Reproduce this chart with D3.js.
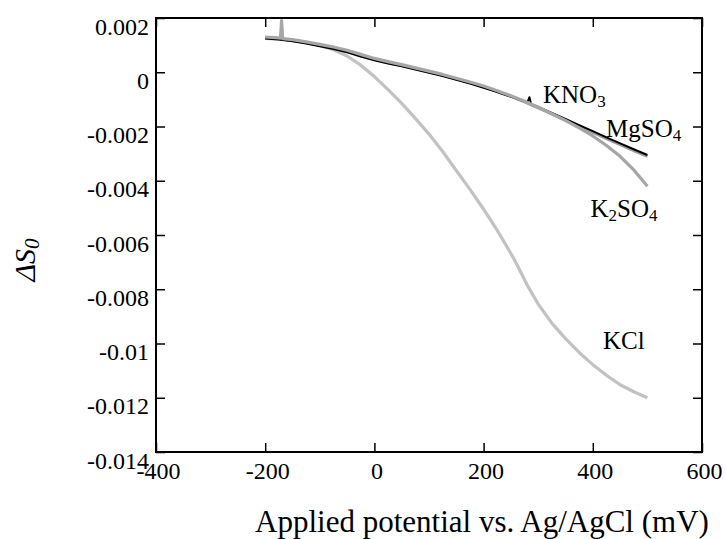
<!DOCTYPE html>
<html>
<head>
<meta charset="utf-8">
<script src="https://cdn.jsdelivr.net/npm/d3@7"></script>
<style>
  body { margin: 0; background: #fff; }
  svg { display: block; }
  text { font-family: "Liberation Serif", "Times New Roman", serif; fill: #000; }
</style>
</head>
<body>
<svg id="chart" width="726" height="539"></svg>
<script>
// ---------- data ----------
const xTicks = [-400, -200, 0, 200, 400, 600];
const xTickLabels = ["-400", "-200", "0", "200", "400", "600"];
const yTicks = [0.002, 0, -0.002, -0.004, -0.006, -0.008, -0.01, -0.012, -0.014];
const yTickLabels = ["0.002", "0", "-0.002", "-0.004", "-0.006", "-0.008", "-0.01", "-0.012", "-0.014"];

const potKCl = [-200,-175,-150,-125,-100,-75,-50,-25,0,25,50,75,100,125,150,175,200,225,250,260,270,280,300,325,350,375,400,425,450,475,500];
const valKCl = [0.00125,0.00122,0.00117,0.00110,0.00099,0.00083,0.00060,0.00026,-0.00016,-0.00064,-0.00115,-0.00170,-0.00228,-0.00292,-0.00362,-0.00432,-0.00505,-0.00583,-0.00668,-0.00705,-0.00745,-0.00785,-0.00855,-0.00925,-0.00982,-0.01033,-0.01078,-0.01117,-0.01152,-0.01178,-0.01200];

const potKNO3 = [-200,-175,-150,-125,-100,-75,-50,-25,0,25,50,75,100,125,150,175,200,225,250,275,280,284,287,300,325,350,375,400,425,450,475,500];
const valKNO3 = [0.00124,0.00121,0.00114,0.00106,0.00096,0.00086,0.00074,0.00058,0.00044,0.00032,0.00022,0.00010,-0.00002,-0.00014,-0.00028,-0.00042,-0.00057,-0.00073,-0.00090,-0.00108,-0.00112,-0.00092,-0.00118,-0.00128,-0.00150,-0.00172,-0.00195,-0.00217,-0.00240,-0.00262,-0.00284,-0.00305];

const potMgSO4 = [-200,-175,-150,-125,-100,-75,-50,-25,0,25,50,75,100,125,150,175,200,225,250,275,300,325,350,375,400,425,450,475,500];
const valMgSO4 = [0.00127,0.00124,0.00117,0.00109,0.00099,0.00089,0.00077,0.00061,0.00047,0.00035,0.00025,0.00013,0.00001,-0.00011,-0.00025,-0.00039,-0.00054,-0.00071,-0.00089,-0.00109,-0.00131,-0.00153,-0.00176,-0.00199,-0.00222,-0.00245,-0.00267,-0.00289,-0.00310];

const potK2SO4 = [-200,-175,-172,-170,-168,-150,-125,-100,-75,-50,-25,0,25,50,75,100,125,150,175,200,225,250,275,300,325,350,375,400,425,450,475,500];
const valK2SO4 = [0.00130,0.00127,0.00126,0.00190,0.00124,0.00120,0.00112,0.00103,0.00093,0.00081,0.00066,0.00051,0.00039,0.00028,0.00016,0.00004,-0.00008,-0.00022,-0.00036,-0.00051,-0.00068,-0.00087,-0.00107,-0.00129,-0.00153,-0.00178,-0.00205,-0.00235,-0.00270,-0.00310,-0.00360,-0.00420];

const seriesNames = ["KCl", "MgSO4", "KNO3", "K2SO4"];

// ---------- layout ----------
const svg = d3.select("#chart");
const mLeft = 156, mRight = 702, mTop = 18, mBottom = 452;
const serif = '"Liberation Serif", "Times New Roman", serif';

const x = d3.scaleLinear().domain([-400, 600]).range([mLeft, mRight]);
const y = d3.scaleLinear().domain([-0.014, 0.002]).range([mBottom, mTop]);

const series = [
  { name: "KCl", xs: potKCl, ys: valKCl, color: "#c2c2c2", width: 3.2 },
  { name: "MgSO4", xs: potMgSO4, ys: valMgSO4, color: "#9c9c9c", width: 3 },
  { name: "KNO3", xs: potKNO3, ys: valKNO3, color: "#000000", width: 2 },
  { name: "K2SO4", xs: potK2SO4, ys: valK2SO4, color: "#a6a6a6", width: 3.2 }
];

const line = d3.line().x(d => x(d[0])).y(d => y(d[1]));

series.forEach(s => {
  const pts = s.xs.map((v, i) => [v, s.ys[i]]);
  svg.append("path")
    .datum(pts)
    .attr("d", line)
    .attr("fill", "none")
    .attr("stroke", s.color)
    .attr("stroke-width", s.width)
    .attr("stroke-linejoin", "round");
});

// ---------- frame (filled bars) ----------
const fw = 2;
const frame = svg.append("g").attr("fill", "#000");
frame.append("rect").attr("x", mLeft - fw / 2).attr("y", mTop - fw / 2).attr("width", fw).attr("height", mBottom - mTop + fw);
frame.append("rect").attr("x", mRight - fw / 2).attr("y", mTop - fw / 2).attr("width", fw).attr("height", mBottom - mTop + fw);
frame.append("rect").attr("x", mLeft - fw / 2).attr("y", mTop - fw / 2).attr("width", mRight - mLeft + fw).attr("height", fw);
frame.append("rect").attr("x", mLeft - fw / 2).attr("y", mBottom - fw / 2).attr("width", mRight - mLeft + fw).attr("height", fw);

// ---------- axes (ticks inward, on all sides) ----------
const tickLen = 9;
const gB = svg.append("g").attr("transform", `translate(0,${mBottom})`)
  .call(d3.axisBottom(x).tickValues(xTicks).tickSize(-tickLen).tickSizeOuter(0)
    .tickFormat((d, i) => xTickLabels[i]));
gB.selectAll("text").attr("y", 27).attr("dy", 0).attr("dx", 2);

const gT = svg.append("g").attr("transform", `translate(0,${mTop})`)
  .call(d3.axisTop(x).tickValues(xTicks).tickSize(-tickLen).tickSizeOuter(0).tickFormat(""));

const gL = svg.append("g").attr("transform", `translate(${mLeft},0)`)
  .call(d3.axisLeft(y).tickValues(yTicks).tickSize(-tickLen).tickSizeOuter(0)
    .tickFormat((d, i) => yTickLabels[i]));
gL.selectAll("text").attr("x", -7).attr("dy", 0).attr("y", 16);

const gR = svg.append("g").attr("transform", `translate(${mRight},0)`)
  .call(d3.axisRight(y).tickValues(yTicks).tickSize(-tickLen).tickSizeOuter(0).tickFormat(""));

[gB, gT, gL, gR].forEach(g => {
  g.selectAll("path.domain").remove();
  g.selectAll(".tick line").attr("stroke", "#000").attr("stroke-width", 1.5);
  g.attr("font-family", serif).attr("font-size", 24);
  g.selectAll("text").style("font-family", serif).style("font-size", "24px").attr("fill", "#000");
});

// ---------- axis titles ----------
svg.append("text")
  .attr("x", 482).attr("y", 532)
  .attr("text-anchor", "middle")
  .style("font-size", "31px")
  .text("Applied potential vs. Ag/AgCl (mV)");

const yt = svg.append("text")
  .attr("transform", "translate(35,260) rotate(-90)")
  .attr("text-anchor", "middle")
  .style("font-size", "30px")
  .style("font-style", "italic");
yt.append("tspan").text("ΔS");
yt.append("tspan").attr("dy", "0.2em").style("font-size", "21px").text("0");

// ---------- series labels ----------
function label(xp, yp, parts) {
  const t = svg.append("text").attr("x", xp).attr("y", yp).style("font-size", "25px");
  parts.forEach(p => {
    if (p.sub) {
      t.append("tspan").attr("dy", 4).style("font-size", "17px").text(p.t);
    } else {
      t.append("tspan").attr("dy", p.after ? -4 : 0).text(p.t);
    }
  });
}
label(543, 103, [{ t: "KNO" }, { t: "3", sub: true }]);
label(606, 136.5, [{ t: "MgSO" }, { t: "4", sub: true }]);
label(590.5, 216.5, [{ t: "K" }, { t: "2", sub: true }, { t: "SO", after: true }, { t: "4", sub: true }]);
label(603, 349, [{ t: "KCl" }]);
</script>
</body>
</html>
